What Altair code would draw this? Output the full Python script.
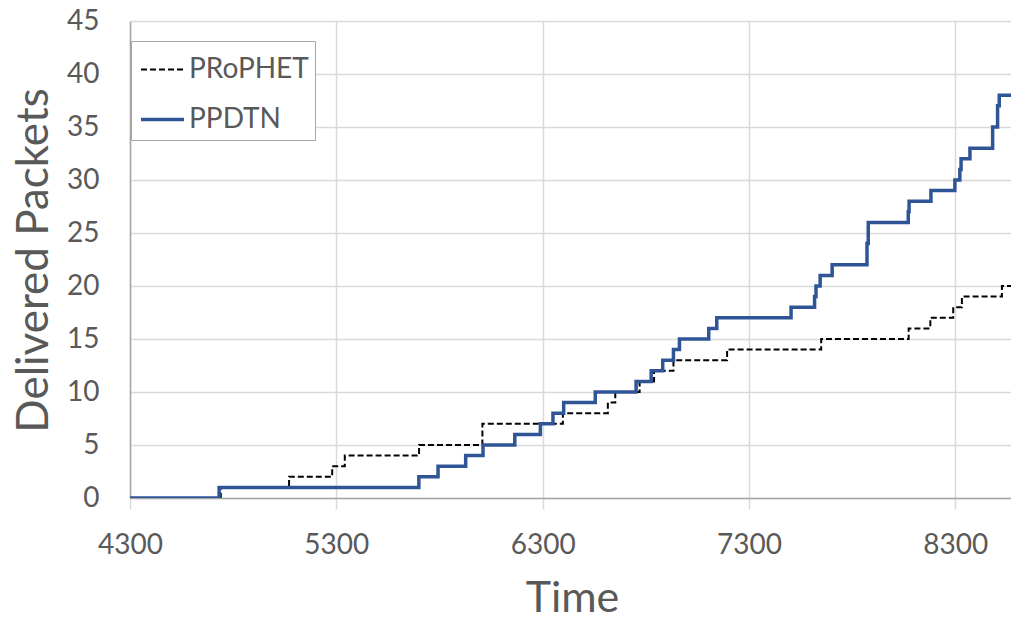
import altair as alt
import pandas as pd

# Cumulative delivered packets: each entry is the time a new count is reached
prophet_time = [4300, 4740, 5071, 5280, 5341, 5701, 6008, 6398, 6616, 6652, 6770, 6840,
                6934, 7194, 7650, 8074, 8179, 8290, 8332, 8526, 8570]
prophet_count = [0, 1, 2, 3, 4, 5, 7, 8, 9, 10, 11, 12,
                 13, 14, 15, 16, 17, 18, 19, 20, 20]

ppdtn_time = [4300, 4732, 5700, 5793, 5927, 6011, 6165, 6289, 6350, 6402, 6555, 6753,
              6826, 6882, 6934, 6963, 7105, 7144, 7504, 7618, 7625, 7645, 7703, 7872,
              7878, 8072, 8076, 8182, 8298, 8322, 8328, 8371, 8481, 8505, 8513, 8570]
ppdtn_count = [0, 1, 2, 3, 4, 5, 6, 7, 8, 9, 10, 11,
               12, 13, 14, 15, 16, 17, 18, 19, 20, 21, 22, 24,
               26, 27, 28, 29, 30, 31, 32, 33, 35, 37, 38, 38]

series_names = ["PRoPHET", "PPDTN"]
series_colors = ["#000000", "#2F5597"]
series_dash = [[6, 3], [1, 0]]
series_width = [2, 3.5]

x_ticks = [4300, 5300, 6300, 7300, 8300]
y_ticks = list(range(0, 50, 5))

df = pd.concat([
    pd.DataFrame({"Time": prophet_time, "Packets": prophet_count, "series": series_names[0]}),
    pd.DataFrame({"Time": ppdtn_time, "Packets": ppdtn_count, "series": series_names[1]}),
])

FONT = "Lato"
GREY = "#595959"

legend = alt.Legend(
    title=None,
    orient="none",
    legendX=1,
    legendY=20,
    symbolType="stroke",
    symbolSize=1849,
    labelFontSize=28,
    labelFont=FONT,
    labelColor=GREY,
    labelOffset=3,
    rowPadding=12,
    padding=6,
    symbolOffset=2,
    strokeColor="#a6a6a6",
    fillColor="white",
)

chart = alt.Chart(df).mark_line(interpolate="step-after", clip=True).encode(
    x=alt.X(
        "Time:Q",
        scale=alt.Scale(domain=[4300, 8570], nice=False, zero=False),
        axis=alt.Axis(
            values=x_ticks, format="d", title="Time",
            labelFontSize=28, labelFont=FONT, labelColor=GREY,
            labelBaseline="alphabetic", labelPadding=44, labelFlush=False,
            tickSize=11, tickColor="#d9d9d9", tickWidth=1.5,
            titleFontSize=43, titleFont=FONT, titleColor=GREY, titleFontWeight="normal",
            titleBaseline="alphabetic", titleY=113, titleX=442,
            gridColor="#d9d9d9", gridWidth=1.5,
            domainColor="#a6a6a6", domainWidth=1.5,
        ),
    ),
    y=alt.Y(
        "Packets:Q",
        scale=alt.Scale(domain=[0, 45], nice=False),
        axis=alt.Axis(
            values=y_ticks, title="Delivered Packets",
            labelFontSize=28, labelFont=FONT, labelColor=GREY,
            labelPadding=31, ticks=False, labelFlush=False, labelBaseline="middle",
            titleFontSize=44, titleFont=FONT, titleColor=GREY, titleFontWeight="normal",
            titleBaseline="alphabetic", titleAngle=270, titleAlign="center",
            titleX=-83, titleY=239,
            gridColor="#d9d9d9", gridWidth=1.5,
            domainColor="#a6a6a6", domainWidth=1.5,
        ),
    ),
    color=alt.Color("series:N", scale=alt.Scale(domain=series_names, range=series_colors), legend=legend),
    strokeDash=alt.StrokeDash("series:N", scale=alt.Scale(domain=series_names, range=series_dash), legend=legend),
    strokeWidth=alt.StrokeWidth("series:N", scale=alt.Scale(domain=series_names, range=series_width), legend=legend),
).properties(
    width=881,
    height=477,
    autosize=alt.AutoSizeParams(type="none"),
    padding={"left": 130, "top": 21, "right": 0, "bottom": 123},
    background="white",
).configure_view(stroke=None)

chart.save("out.html", embed_options={"renderer": "svg", "actions": False})
